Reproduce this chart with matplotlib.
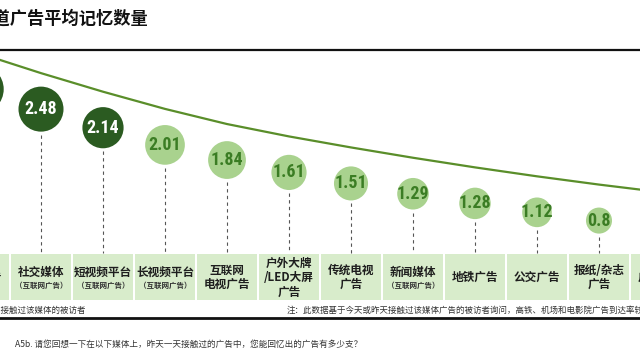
import matplotlib
matplotlib.use("Agg")
import matplotlib.pyplot as plt
from matplotlib.patches import Rectangle
from matplotlib import font_manager as fm
import matplotlib.transforms as mtransforms

plt.rcParams['font.family'] = ['Noto Sans CJK SC', 'DejaVu Sans']

# ---------------- data ----------------
categories = ["电梯广告", "社交媒体", "短视频平台", "长视频平台", "互联网\n电视广告",
              "户外大牌\n/LED大屏\n广告", "传统电视\n广告", "新闻媒体", "地铁广告",
              "公交广告", "报纸/杂志\n广告", "广播广告"]
sub_labels = ["", "（互联网广告）", "（互联网广告）", "（互联网广告）", "", "", "",
              "（互联网广告）", "", "", "", ""]
values = [2.87, 2.48, 2.14, 2.01, 1.84, 1.61, 1.51, 1.29, 1.28, 1.12, 0.8, None]
value_labels = ["2.87", "2.48", "2.14", "2.01", "1.84", "1.61", "1.51", "1.29",
                "1.28", "1.12", "0.8", ""]
highlight = [True, True, True, False, False, False, False, False, False, False, False, False]
trend_values = [3.35, 3.06, 2.79, 2.54, 2.32, 2.14, 1.98, 1.83, 1.69, 1.56, 1.44, 1.33]

title = "各渠道广告平均记忆数量"
note_left = "基数：昨天接触过该媒体的被访者"
note_right = "注：此数据基于今天或昨天接触过该媒体广告的被访者询问，高铁、机场和电影院广告到达率较低"
question = "A5b. 请您回想一下在以下媒体上，昨天一天接触过的广告中，您能回忆出的广告有多少支？"

# ---------------- styling ----------------
W, H = 640, 364
DARK = "#2b5b21"
LIGHT = "#a9d28e"
LIGHT_TXT = "#3b7d24"
LINE = "#5a8e2a"
BOX = "#d8eccb"
BUBBLE_DROP_PX = 36   # bubbles hang below the trend curve

def pick_font(cands):
    names = {f.name for f in fm.fontManager.ttflist}
    for c in cands:
        if c in names:
            return c
    return "DejaVu Sans"

num_font = pick_font(["Liberation Sans Narrow", "Roboto Condensed", "Roboto"])
num_size = 13 if num_font in ("Liberation Sans Narrow", "Roboto Condensed") else 11.5

fig = plt.figure(figsize=(W / 100, H / 100), dpi=100)
ax = fig.add_axes([0, 0, 1, 1])
ax.set_axis_off()

# category i centred at -21 + 62*i px
ax.set_xlim(21 / 62, 661 / 62)
y_top, y_bot = 4.123, -1.168
ax.set_ylim(y_bot, y_top)
px_per_unit = H / (y_top - y_bot)

def fy(py):  # pixel y (from top) -> axes fraction
    return 1 - py / H

blend = mtransforms.blended_transform_factory(ax.transData, ax.transAxes)
drop = mtransforms.offset_copy(ax.transData, fig=fig, x=0, y=-BUBBLE_DROP_PX, units='dots')
xs = list(range(len(categories)))

# trend curve
ax.plot(xs, trend_values, color=LINE, lw=1.6, zorder=2, solid_capstyle='round',
        solid_joinstyle='round')

# category boxes
box_top, box_bot = 254, 300
gap = 2 / 62
for i, (cat, sub) in enumerate(zip(categories, sub_labels)):
    rect = Rectangle((i - 0.5 + gap / 2, fy(box_bot)), 1 - gap, fy(box_top) - fy(box_bot),
                     transform=blend, facecolor=BOX, edgecolor='none', zorder=1)
    ax.add_patch(rect)
    if sub:
        ax.text(i, fy(272), cat, transform=blend, ha='center', va='center', fontsize=8.4,
                fontweight='bold', color='#1e1e1e', zorder=3)
        ax.text(i, fy(285), sub, transform=blend, ha='center', va='center', fontsize=5.4,
                fontweight='bold', color='#333333', zorder=3)
    else:
        t = ax.text(i, fy(277.5), cat, transform=blend, ha='center', va='center', fontsize=8.4,
                    fontweight='bold', color='#1e1e1e', linespacing=1.15, zorder=3)
        t.set_clip_path(rect)

# bubbles, dashed drops, numbers
for i, (v, lab, hl) in enumerate(zip(values, value_labels, highlight)):
    if v is None:
        continue
    r_px = 8.5 + 5.65 * v
    d_pt = 2 * r_px * 0.72
    yc = trend_values[i]
    ax.scatter([i], [yc], s=d_pt ** 2, color=DARK if hl else LIGHT, edgecolors='none',
               zorder=4, transform=drop)
    y_start = yc - (r_px + 3) / px_per_unit
    y_end = y_top - (box_top - 1 - BUBBLE_DROP_PX) / px_per_unit
    ax.plot([i, i], [y_start, y_end], color='#555555', lw=0.8, ls=(0, (3, 3)), zorder=1.5,
            transform=drop)
    ax.text(i, yc, lab, ha='center', va='center', fontsize=num_size, fontweight='heavy',
            family=num_font, color='white' if hl else LIGHT_TXT, zorder=5, transform=drop)

# title and rules
fig.text(148 / W, fy(19), title, ha='right', va='center', fontsize=12.4, fontweight='heavy',
         color='#111111')
ax.plot([0, 1], [fy(50), fy(50)], transform=ax.transAxes, color='#111111', lw=1.6, zorder=3)
ax.plot([0, 1], [fy(318), fy(318)], transform=ax.transAxes, color='#111111', lw=2.0, zorder=3)

# notes
fig.text(86 / W, fy(310), note_left, ha='right', va='center', fontsize=6.1, color='#333333')
fig.text(287 / W, fy(310), note_right, ha='left', va='center', fontsize=6.1, color='#333333')
fig.text(15 / W, fy(344), question, ha='left', va='center', fontsize=6.2, color='#333333')

fig.savefig("out.png", dpi=100)
